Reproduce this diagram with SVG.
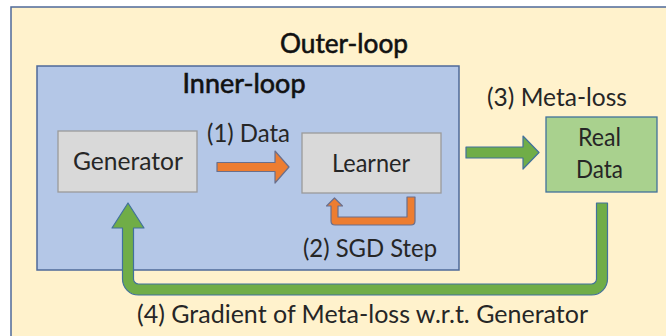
<svg xmlns="http://www.w3.org/2000/svg" width="666" height="336" viewBox="0 0 666 336">
  <style>
    .lbl { font-family: Lato, "Liberation Sans", sans-serif; font-size: 25px; fill: #262626; text-anchor: middle; }
    .ttl { font-family: Lato, "Liberation Sans", sans-serif; font-size: 27px; fill: #111111; stroke: #111111; stroke-width: 0.6; text-anchor: middle; }
    .box { fill: #D9D9D9; stroke: #9A9A9A; stroke-width: 1.3; }
    .orange { fill: #ED7D31; stroke: #6A6F8C; stroke-width: 1.2; stroke-linejoin: round; }
    .green { fill: #70AD47; stroke: #41719C; stroke-width: 1.2; stroke-linejoin: round; }
  </style>

  <!-- outer loop region -->
  <g id="outer-loop">
    <rect x="11" y="7" width="720" height="420" fill="#FFF2CC" stroke="#4F6A99" stroke-width="1.5"/>
    <text class="ttl" x="344" y="53" textLength="128" lengthAdjust="spacingAndGlyphs">Outer-loop</text>
  </g>

  <!-- inner loop region -->
  <g id="inner-loop">
    <rect x="37" y="66" width="422" height="204" fill="#B4C7E7" stroke="#4F6A99" stroke-width="1.5"/>
    <text class="ttl" x="244" y="93" textLength="123" lengthAdjust="spacingAndGlyphs">Inner-loop</text>
  </g>

  <g id="generator">
    <rect class="box" x="58" y="131" width="139" height="61"/>
    <text class="lbl" x="128" y="170" textLength="110" lengthAdjust="spacingAndGlyphs">Generator</text>
  </g>

  <g id="learner">
    <rect class="box" x="302" y="133" width="139" height="60"/>
    <text class="lbl" x="371" y="172" textLength="78" lengthAdjust="spacingAndGlyphs">Learner</text>
  </g>

  <g id="real-data">
    <rect x="546" y="117" width="111" height="75" fill="#A9D18E" stroke="#41719C" stroke-width="1.3"/>
    <text class="lbl" x="599.5" y="146" textLength="43" lengthAdjust="spacingAndGlyphs">Real</text>
    <text class="lbl" x="599.5" y="178" textLength="47" lengthAdjust="spacingAndGlyphs">Data</text>
  </g>

  <!-- connectors -->
  <g id="connectors">
    <!-- (1) data: generator to learner -->
    <path class="orange" d="M217,162.5 H275 V151 L289,167 L275,183 V171.5 H217 Z"/>
    <!-- (2) SGD step: learner self-update -->
    <path class="orange" d="M407,197 H415 V221 Q415,225 411,225 H335 Q331,225 331,221 V206 H326.5 L334.5,198 L342.5,206 H338 V217 H407 Z"/>
    <!-- (3) meta-loss: learner to real data -->
    <path class="green" d="M466,147 H523 V136 L539,152.5 L523,169 V158 H466 Z"/>
    <!-- (4) gradient back to generator -->
    <path class="green" d="M596.5,203 H607.5 V279 A16,16 0 0 1 591.5,295 H138.5 A16,16 0 0 1 122.5,279 V228 H112 L128,203 L144,228 H133.5 V279 A5,5 0 0 0 138.5,284 H591.5 A5,5 0 0 0 596.5,279 Z"/>

    <text class="lbl" x="248.5" y="142" textLength="83" lengthAdjust="spacingAndGlyphs">(1) Data</text>
    <text class="lbl" x="370" y="257" textLength="134" lengthAdjust="spacingAndGlyphs">(2) SGD Step</text>
    <text class="lbl" x="557" y="106" textLength="140" lengthAdjust="spacingAndGlyphs">(3) Meta-loss</text>
    <text class="lbl" x="362.5" y="323" textLength="451" lengthAdjust="spacingAndGlyphs">(4) Gradient of Meta-loss w.r.t. Generator</text>
  </g>
</svg>
